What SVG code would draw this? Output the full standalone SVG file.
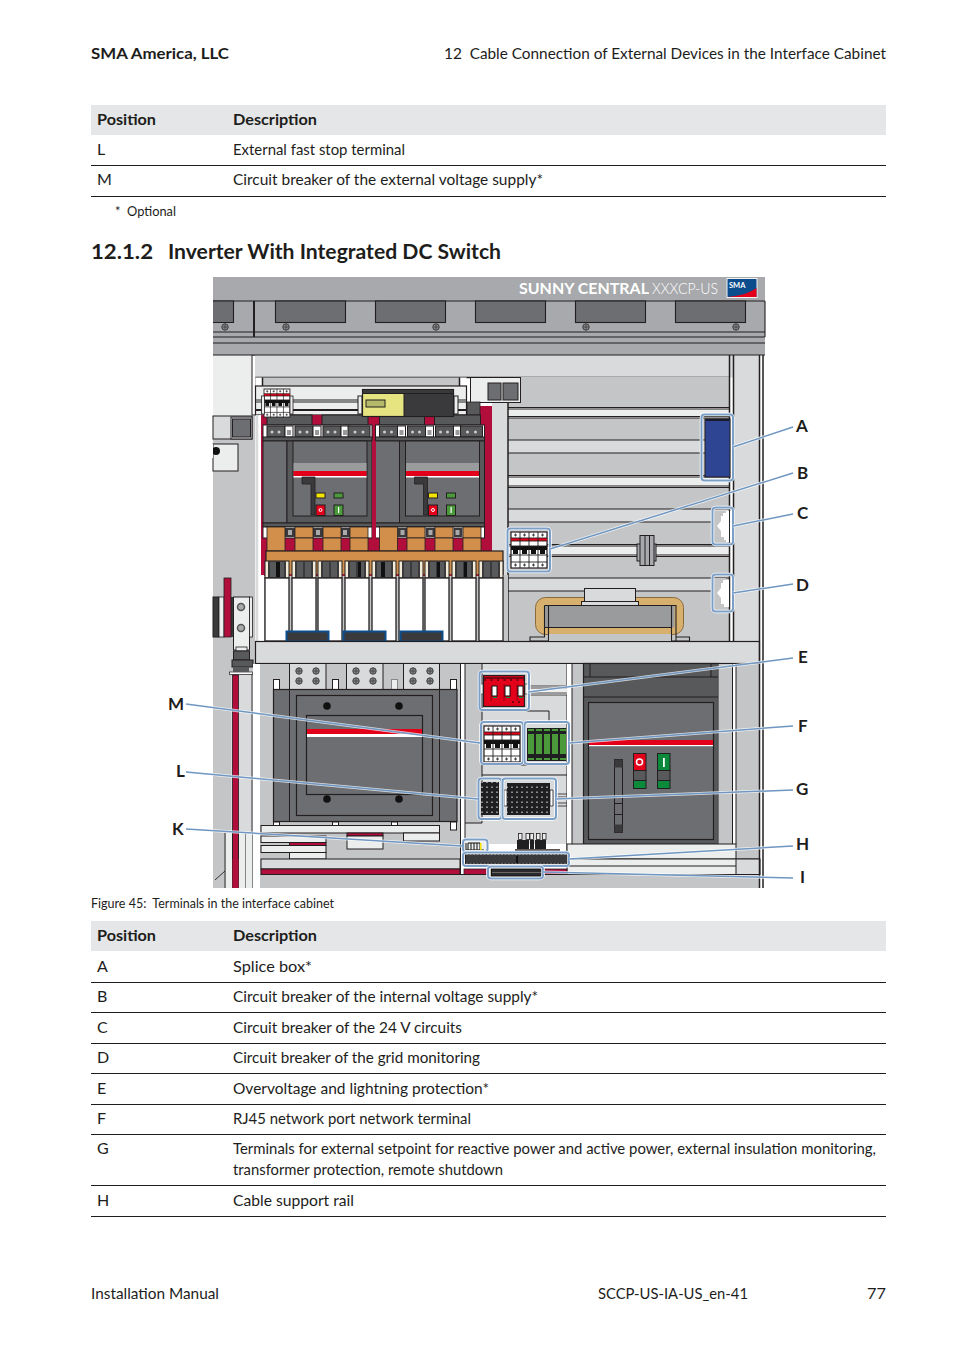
<svg xmlns="http://www.w3.org/2000/svg" width="954" height="1350" viewBox="0 0 954 1350">
<style>
text{font-family:Lato,"Open Sans","Noto Sans","Liberation Sans",sans-serif;fill:#1d1d1b;font-size:15px}
.b{font-weight:700}
.s{font-size:13px}
.lab{font-weight:700;font-size:17px}
.k{stroke:#231f20;stroke-width:1.2}
.kk{stroke:#231f20;stroke-width:1.5;fill:none}
.g1{fill:#d9dadc}.g2{fill:#c4c5c7}.g3{fill:#a7a9ac}.g4{fill:#6d6e71}.g5{fill:#58595b}.d{fill:#3a3a3c}.w{fill:#eceeee}.wh{fill:#fff}
.cr{fill:#b20e3c}.cu{fill:#d18f4b}.re{fill:#e2001a}.gr{fill:#4a9a3c}.gd{fill:#0b8a3c}
.rule{stroke:#1d1d1b;stroke-width:1}
.box{fill:none;stroke:#fff;stroke-width:3.5}
.box2{fill:none;stroke:#7c9fc7;stroke-width:2}
.lh{stroke:#fff;stroke-width:3;opacity:.75;fill:none}
.lb{stroke:#6f97c2;stroke-width:1.5;fill:none}
</style>
<defs>
<g id="sc"><circle r="3.2" fill="#8a8b8d" stroke="#3a3a3c" stroke-width="1"/><path d="M-2.5 0H2.5M0-2.5V2.5" stroke="#3a3a3c" stroke-width=".8"/></g>
<g id="mcb">
<rect width="36" height="36" fill="#fff" stroke="#231f20" stroke-width="1.2"/>
<rect y="6" width="36" height="3" class="re"/>
<rect y="14" width="36" height="4" fill="#111"/>
<path d="M2 18h5v4H2zM11 18h5v4h-5zM20 18h5v4h-5zM29 18h5v4h-5z" fill="#111"/>
<path d="M0 6H36M0 9H36M0 14H36M0 23H36M0 30H36M9 0V36M18 0V36M27 0V36" stroke="#231f20" stroke-width=".9" fill="none"/>
<path d="M3 3h3M4.500 1.500v3M12 3h3M13.500 1.500v3M21 3h3M22.500 1.500v3M30 3h3M31.500 1.500v3M3 33h3M4.500 31.500v3M12 33h3M13.500 31.500v3M21 33h3M22.500 31.500v3M30 33h3M31.500 31.500v3" stroke="#444" stroke-width="1.1"/>
</g>
<g id="mod">
<rect y="-17" width="24" height="17" fill="#f3ecd8" stroke="#231f20"/>
<rect x="3" y="-17" width="18" height="17" class="d"/>
<rect x="5" y="-16" width="6" height="15" class="g5"/><rect x="13" y="-16" width="6" height="15" class="g5"/>
<rect width="24" height="63" fill="#fff" stroke="#231f20" stroke-width="1.3"/>
</g>
<g id="trm">
<rect x="4" width="18" height="11" class="g5" stroke="#231f20"/>
<circle cx="9" cy="6" r="1.5" fill="#ccc"/><circle cx="16" cy="6" r="1.500" fill="#ccc"/>
<rect x="22" width="8" height="11" fill="#fff" stroke="#231f20"/>
<rect x="24" y="4" width="4" height="5" fill="#999"/>
</g>
<g id="brk">
<rect x="267" y="415" width="45" height="10" class="g5" stroke="#231f20"/>
<rect x="322" y="415" width="46" height="10" class="g5" stroke="#231f20"/>
<rect x="263" y="425" width="109" height="13" fill="#fff" stroke="#231f20"/>
<use href="#trm" x="263" y="426"/><use href="#trm" x="291" y="426"/><use href="#trm" x="319" y="426"/>
<rect x="348" y="426" width="22" height="11" class="g5" stroke="#231f20"/><circle cx="355" cy="432" r="1.500" fill="#ccc"/><circle cx="363" cy="432" r="1.500" fill="#ccc"/>
<rect x="263" y="437" width="109" height="4" class="g5" stroke="#231f20"/>
<rect x="263" y="441" width="24" height="82" class="g4" stroke="#231f20"/>
<rect x="287" y="441" width="85" height="82" class="g5" stroke="#231f20"/>
<rect x="293" y="441" width="74" height="75" class="g4" stroke="#231f20"/>
<rect x="293.500" y="463" width="73" height="8" fill="#9a9b9d"/>
<rect x="293.500" y="471" width="73" height="5" class="re"/>
<rect x="293.500" y="476" width="73" height="1.500" class="wh"/>
<path d="M302 477h13v38h-4v-31h-9z" class="d" stroke="#231f20" stroke-width=".8"/>
<rect x="316" y="493" width="9" height="5" fill="#f3e500" stroke="#231f20"/>
<rect x="334" y="493" width="9" height="5" class="gr" stroke="#231f20"/>
<rect x="316" y="505" width="9" height="10.500" class="re" stroke="#231f20"/>
<circle cx="320.500" cy="510" r="1.500" fill="none" stroke="#fff"/>
<rect x="334" y="505" width="9" height="10.500" class="gr" stroke="#231f20"/>
<rect x="338" y="507" width="1.200" height="6" fill="#fff"/>
<rect x="263" y="523" width="109" height="4" class="g5" stroke="#231f20"/>
<rect x="263" y="527" width="109" height="11" fill="#fff" stroke="#231f20"/>
<rect x="285" y="528" width="10" height="9" class="d"/><rect x="313" y="528" width="10" height="9" class="d"/><rect x="341" y="528" width="9" height="9" class="d"/>
<rect x="288" y="530" width="4" height="5" fill="#aaa"/><rect x="316" y="530" width="4" height="5" fill="#aaa"/><rect x="343" y="530" width="4" height="5" fill="#aaa"/>
</g>
<pattern id="dots" width="5" height="5" patternUnits="userSpaceOnUse"><rect width="5" height="5" fill="#1f1f21"/><rect x="1" y="1.500" width="2" height="1.500" fill="#8a8b8d"/></pattern>
</defs>

<g id="page-header">
<text class="b" x="91" y="59" style="font-size:16px" textLength="138" lengthAdjust="spacingAndGlyphs">SMA America, LLC</text>
<text x="444" y="59" style="font-size:16px" textLength="442" lengthAdjust="spacingAndGlyphs" xml:space="preserve">12  Cable Connection of External Devices in the Interface Cabinet</text>
</g>

<g id="table-top">
<rect x="91" y="105" width="795" height="30" fill="#e5e6e7"/>
<text class="b" x="97" y="125" style="font-size:16px" textLength="59" lengthAdjust="spacingAndGlyphs">Position</text>
<text class="b" x="233" y="125" style="font-size:16px" textLength="84" lengthAdjust="spacingAndGlyphs">Description</text>
<text x="97" y="155" style="font-size:16px">L</text>
<text x="233" y="155" style="font-size:16px" textLength="172" lengthAdjust="spacingAndGlyphs">External fast stop terminal</text>
<line class="rule" x1="91" y1="165.500" x2="886" y2="165.500"/>
<text x="97" y="185" style="font-size:16px" >M</text>
<text x="233" y="185" style="font-size:16px" textLength="310" lengthAdjust="spacingAndGlyphs">Circuit breaker of the external voltage supply*</text>
<line class="rule" x1="91" y1="196.500" x2="886" y2="196.500"/>
<text x="115" y="216" class="s">*</text>
<text x="127" y="216" class="s" textLength="49" lengthAdjust="spacingAndGlyphs">Optional</text>
</g>
<g id="heading">
<text class="b" x="91" y="259" style="font-size:21px" textLength="62" lengthAdjust="spacingAndGlyphs">12.1.2</text>
<text class="b" x="168" y="259" style="font-size:21px" textLength="333" lengthAdjust="spacingAndGlyphs">Inverter With Integrated DC Switch</text>
</g>

<g id="cabinet">
<!-- backgrounds -->
<rect x="213" y="355" width="40" height="61" class="w"/>
<rect x="213" y="416" width="42" height="472" class="g2"/>
<rect x="252" y="355" width="4" height="60" class="wh" stroke="#231f20" stroke-width="1"/>
<rect x="255" y="355" width="505" height="22.500" class="g1"/>
<path d="M255.500 377.500H729.500" class="kk"/>
<rect x="255.500" y="377.500" width="7" height="8.500" class="wh"/>
<rect x="262.500" y="377.500" width="197" height="8.500" class="g2"/>
<rect x="459.500" y="377.500" width="7" height="8.500" class="wh"/>
<path d="M262.500 377.500V386M459.500 377.500V386" class="kk"/>
<rect x="255.500" y="386" width="211" height="29" class="w" stroke="#231f20" stroke-width="1.200"/>
<rect x="255.500" y="400" width="211" height="2" class="w" stroke="#231f20" stroke-width="1"/>
<rect x="255.500" y="409" width="211" height="2" fill="#231f20"/>
<!-- upper right stacked panels -->
<rect x="508" y="377" width="221" height="31" class="g2"/>
<rect x="508" y="409" width="221" height="7" class="w"/>
<rect x="508" y="418" width="221" height="22" class="g2"/>
<rect x="508" y="440" width="221" height="13" class="g1"/>
<rect x="508" y="453" width="221" height="22" class="g2"/>
<rect x="508" y="477" width="221" height="9" class="w"/>
<rect x="508" y="487" width="221" height="22" class="g2"/>
<rect x="508" y="509" width="221" height="13" class="g1"/>
<rect x="508" y="522" width="221" height="22" class="g2"/>
<rect x="508" y="545" width="221" height="10" class="w"/>
<rect x="508" y="557" width="221" height="21" class="g2"/>
<rect x="508" y="578" width="221" height="13" class="g1"/>
<rect x="508" y="591" width="221" height="50" class="g2"/>
<path d="M508 407.500H729M508 409H729M508 416.500H729M508 418H729M508 440H729M508 453H729M508 475.500H729M508 477H729M508 486H729M508 487.500H729M508 509H729M508 522H729M508 544.500H729M508 546H729M508 555H729M508 556.500H729M508 578H729M508 591H729" stroke="#231f20" stroke-width="1" fill="none"/>
<rect x="492" y="402" width="16" height="239" class="g1"/>
<path d="M508 402V641" class="kk"/>
<rect x="733" y="355" width="26.500" height="286" class="g1"/>
<path d="M729.500 355V641M733.500 355V641" class="kk"/>
<rect x="759.500" y="355" width="3.500" height="533" class="wh"/>
<!-- left misc -->
<rect x="255.500" y="415" width="3" height="226" class="g1"/>
<rect x="258.500" y="415" width="2.500" height="226" class="wh"/>
<rect x="213" y="416" width="39" height="23" class="g1" stroke="#231f20" stroke-width="1"/>
<rect x="231" y="417" width="21" height="22" class="g1" stroke="#231f20" stroke-width="1"/>
<rect x="232.500" y="419" width="18" height="18" class="g4" stroke="#231f20"/>
<rect x="213" y="444" width="25" height="27" class="w" stroke="#231f20" stroke-width="1"/>
<circle cx="216" cy="451" r="4" fill="#111"/>
<rect x="210" y="444" width="3" height="14" fill="#fff"/>
<!-- box w squares -->
<rect x="470.500" y="377.500" width="50" height="25" class="w" stroke="#231f20" stroke-width="1"/>
<rect x="488" y="383" width="13" height="17" class="g4" stroke="#231f20"/>
<rect x="503" y="383" width="15" height="17" class="g4" stroke="#231f20"/>
<!-- crimson backdrop -->
<path d="M467 402H480V406H492V575H261V415H467Z" class="cr"/>
<rect x="467" y="402" width="13" height="13" class="g5" stroke="#231f20" stroke-width=".8"/>
<use href="#brk"/>
<use href="#brk" x="112.500"/>
<rect x="372" y="441" width="4" height="130" class="cr"/>
<!-- copper -->
<g class="cu" stroke="#231f20" stroke-width=".8">
<rect x="267" y="527" width="18" height="24"/><rect x="295" y="527" width="18" height="11"/><rect x="295" y="538" width="18" height="13"/><rect x="323" y="527" width="18" height="11"/><rect x="323" y="538" width="18" height="13"/><rect x="350" y="527" width="18" height="11"/><rect x="350" y="538" width="18" height="13"/>
<rect x="379.500" y="527" width="18" height="24"/><rect x="407" y="527" width="18" height="11"/><rect x="407" y="538" width="18" height="13"/><rect x="435" y="527" width="18" height="11"/><rect x="435" y="538" width="18" height="13"/><rect x="463" y="527" width="18" height="11"/><rect x="463" y="538" width="18" height="13"/>
<rect x="266" y="551" width="237" height="24" stroke-width="1.200"/>
</g>
<rect x="264" y="575" width="244" height="66" class="g2"/>
<rect x="264" y="574.500" width="229" height="1.500" class="cr"/>
<use href="#mod" x="265" y="578"/><use href="#mod" x="292" y="578"/><use href="#mod" x="318" y="578"/><use href="#mod" x="345" y="578"/><use href="#mod" x="372" y="578"/><use href="#mod" x="399" y="578"/><use href="#mod" x="425" y="578"/><use href="#mod" x="452" y="578"/><use href="#mod" x="479" y="578"/>
<path d="M276 562h4v15h-4zM381 562h4v15h-4zM358 562h3v15h-3zM437 562h3v15h-3zM464 562h3v15h-3z" fill="#111"/>
<g stroke="#231f20"><rect x="286.500" y="631.500" width="42" height="10" class="d" style="stroke:#0a4c8c;stroke-width:2"/><rect x="343.500" y="631.500" width="42" height="10" class="d" style="stroke:#0a4c8c;stroke-width:2"/><rect x="400.500" y="631.500" width="42" height="10" class="d" style="stroke:#0a4c8c;stroke-width:2"/></g>
<!-- left clamp -->
<rect x="213" y="597" width="6" height="40" class="d" stroke="#231f20"/>
<rect x="219" y="597" width="5" height="40" class="w" stroke="#231f20" stroke-width=".8"/>
<rect x="229" y="597" width="4" height="40" class="d"/>
<rect x="233.500" y="597" width="16" height="53" class="w" stroke="#231f20"/>
<rect x="249.500" y="597" width="3" height="40" class="w" stroke="#231f20" stroke-width=".8"/>
<rect x="224" y="578" width="7" height="59" class="cr" stroke="#231f20" stroke-width=".8"/>
<circle cx="241" cy="607" r="3.500" fill="#aaa" stroke="#555" stroke-width="1.500"/>
<circle cx="241" cy="628" r="3.500" fill="#aaa" stroke="#555" stroke-width="1.500"/>
<rect x="236" y="647" width="11" height="4" class="w" stroke="#231f20" stroke-width=".8"/>
<rect x="233.500" y="651" width="16" height="9" class="g5" stroke="#231f20"/>
<rect x="232" y="660" width="21" height="7" class="g5" stroke="#231f20"/>
<rect x="229.500" y="672" width="23" height="2.500" class="wh" stroke="#231f20" stroke-width=".7"/>
<rect x="233" y="667" width="16" height="5" class="g5"/>
<!-- shelf -->
<rect x="255.500" y="641.500" width="504" height="22" class="g1" stroke="#231f20" stroke-width="1.200"/>

<!-- lower left -->
<rect x="253" y="664" width="7" height="224" class="wh"/>
<rect x="260" y="664" width="200" height="224" class="g2"/>
<rect x="231" y="675" width="22" height="213" class="g1" stroke="none"/>
<rect x="232.500" y="675" width="6" height="205" class="cr" stroke="#231f20" stroke-width=".8"/>
<path d="M225 833V888M232.500 833V888M238.500 833V888M245 833V888M252 674V888M215 880L225 871" stroke="#231f20" stroke-width=".9" fill="none"/>
<rect x="226" y="833" width="6" height="55" class="w"/><rect x="239" y="833" width="6" height="55" class="w"/><rect x="246" y="833" width="6" height="55" class="w"/>
<rect x="232.500" y="859" width="6" height="29" class="cr"/>
<g id="blocks">
<rect x="289.500" y="663.500" width="36.500" height="26" class="g1" stroke="#231f20"/>
<rect x="346.500" y="663.500" width="36.500" height="26" class="g1" stroke="#231f20"/>
<rect x="403.500" y="663.500" width="36" height="26" class="g1" stroke="#231f20"/>
<use href="#sc" x="299" y="671"/><use href="#sc" x="316" y="671"/><use href="#sc" x="299" y="681"/><use href="#sc" x="316" y="681"/>
<use href="#sc" x="356" y="671"/><use href="#sc" x="373" y="671"/><use href="#sc" x="356" y="681"/><use href="#sc" x="373" y="681"/>
<use href="#sc" x="413" y="671"/><use href="#sc" x="430" y="671"/><use href="#sc" x="413" y="681"/><use href="#sc" x="430" y="681"/>
<rect x="273.500" y="679.500" width="6" height="10" class="wh" stroke="#231f20"/>
<rect x="332.500" y="679.500" width="6" height="10" class="wh" stroke="#231f20"/>
<rect x="391.500" y="679.500" width="6" height="10" class="w" stroke="#888"/>
<rect x="450.500" y="679.500" width="6" height="10" class="wh" stroke="#231f20"/>
</g>
<rect x="273.500" y="689.500" width="183.500" height="132" class="g4" stroke="#231f20" stroke-width="1.200"/>
<path d="M289.500 689.500V821.500M439.500 689.500V821.500" class="kk" style="stroke-width:1"/>
<rect x="296.500" y="695.500" width="136" height="120" class="g4" stroke="#231f20" stroke-width="1.200"/>
<rect x="306.500" y="715.500" width="116" height="79" class="g4" stroke="#231f20" stroke-width="1.200"/>
<rect x="307" y="729" width="115" height="5" class="re"/><rect x="307" y="734" width="115" height="3" class="wh"/>
<circle cx="327" cy="706" r="3.800" fill="#111"/><circle cx="399" cy="706" r="3.800" fill="#111"/><circle cx="327" cy="799" r="3.800" fill="#111"/><circle cx="399" cy="799" r="3.800" fill="#111"/>
<g stroke="#231f20" stroke-width="1">
<rect x="273.500" y="822" width="6" height="4" class="wh"/><rect x="332.500" y="822" width="6" height="4" class="wh"/><rect x="391.500" y="822" width="6" height="4" class="wh"/><rect x="450.500" y="822" width="6" height="8" class="wh"/>
<rect x="261" y="825.500" width="178.500" height="7.500" class="w"/>
<rect x="347" y="833" width="36" height="3" class="cr"/>
<rect x="347" y="836" width="36" height="13" class="w"/>
<rect x="403.500" y="833" width="36" height="8" class="w"/>
<rect x="261" y="836" width="65" height="6.500" class="w"/>
<rect x="289.500" y="842.500" width="36.500" height="3" class="cr"/>
<rect x="261" y="845.500" width="65" height="7" class="w"/>
<rect x="289.500" y="852.500" width="36.500" height="6.500" class="w"/>
<rect x="261" y="859" width="199" height="10" class="g1"/>
<rect x="261" y="869" width="199" height="5.500" class="cr"/>
</g>

<!-- middle column -->
<rect x="460" y="664" width="5" height="211" class="wh"/>
<rect x="465" y="664" width="102" height="180" class="g1"/>
<rect x="465" y="664" width="17" height="159" class="g2"/>
<path d="M460.500 664V874.500M465 664V859M482 664V823M465 823H482M482 711H549V722M482 765H567M482 775H567M567 664V859" stroke="#231f20" stroke-width="1" fill="none"/>
<rect x="529" y="686" width="38" height="9" class="w"/>
<path d="M529 686H567M529 688H567M529 693H567M529 695H567" stroke="#231f20" stroke-width=".8"/>
<rect x="567" y="664" width="5" height="180" class="wh"/>
<rect x="572" y="664" width="11" height="180" class="g2"/>
<path d="M572 664V844" class="kk" style="stroke-width:1"/>
<!-- right breaker -->
<rect x="583.500" y="663.500" width="135" height="181" class="g5" stroke="#231f20" stroke-width="1.200"/>
<path d="M583.500 677H718.500M583.500 697H718.500M590 664V677M711 664V677" class="kk" style="stroke-width:1"/>
<rect x="588.500" y="702.500" width="125" height="137" class="g4" stroke="#231f20" stroke-width="1.200"/>
<rect x="589" y="740" width="124" height="5" class="re"/><rect x="589" y="745" width="124" height="1.200" class="wh"/>
<rect x="633.500" y="753.500" width="12.500" height="17" class="re" stroke="#231f20"/>
<circle cx="639.500" cy="762" r="3" fill="none" stroke="#fff" stroke-width="1.600"/>
<rect x="633.500" y="770.500" width="12.500" height="10" class="g5" stroke="#231f20"/>
<rect x="633.500" y="780.500" width="12.500" height="8" class="gd" stroke="#231f20"/>
<rect x="657.500" y="753.500" width="12.500" height="17" class="gd" stroke="#231f20"/>
<rect x="663" y="758" width="1.800" height="9" fill="#fff"/>
<rect x="657.500" y="770.500" width="12.500" height="10" class="g5" stroke="#231f20"/>
<rect x="657.500" y="780.500" width="12.500" height="8" class="gd" stroke="#231f20"/>
<rect x="614.500" y="759.500" width="8" height="73" class="g4" stroke="#231f20"/>
<rect x="614.500" y="759.500" width="8" height="8" class="d"/>
<rect x="614.500" y="824.500" width="8" height="8" class="d"/>
<path d="M614.500 803.500h8M614.500 814.500h8" stroke="#231f20"/>
<rect x="718.500" y="664" width="14" height="180" class="g2"/>
<rect x="736" y="664" width="23.500" height="210" class="g2"/>
<path d="M732.500 664V844M736 664V844" class="kk" style="stroke-width:1"/>
<rect x="567" y="844" width="169" height="15" class="w" stroke="#231f20" stroke-width="1"/>
<rect x="567" y="859" width="193" height="15.500" class="w" stroke="#231f20" stroke-width="1"/>
<path d="M567 866H736" stroke="#231f20" stroke-width="1"/>
<rect x="736" y="859" width="23.500" height="15.500" class="g1" stroke="#231f20" stroke-width="1"/>
<rect x="464" y="869" width="103" height="5.500" class="cr" stroke="#231f20" stroke-width=".8"/>
<rect x="260.500" y="875" width="499" height="13" class="g2"/>
<path d="M460 874.500H760" stroke="#231f20"/>
<path d="M759.500 355V888M763 355V888" class="kk"/>

<!-- top panel -->
<rect x="213" y="277" width="552" height="78" class="g3"/>
<path d="M213 301H765M213 332H765M213 337H765M213 343H765M213 355H765M765 301V337" stroke="#231f20" stroke-width="1.100" fill="none"/>
<path d="M254 301V337" stroke="#231f20" stroke-width="2"/>
<path d="M213 301H233.500V322.500H213Z" class="g4"/>
<path d="M213 301H233.500V322.500H213" fill="none" stroke="#231f20" stroke-width="1.100"/>
<g class="g4" stroke="#231f20" stroke-width="1.100">
<rect x="275.500" y="301" width="70" height="21.500"/><rect x="375.500" y="301" width="70" height="21.500"/><rect x="475.500" y="301" width="70" height="21.500"/><rect x="575.500" y="301" width="70" height="21.500"/><rect x="675.500" y="301" width="70" height="21.500"/>
</g>
<use href="#sc" x="225" y="327"/><use href="#sc" x="286" y="327"/><use href="#sc" x="436" y="327"/><use href="#sc" x="586" y="327"/><use href="#sc" x="736" y="327"/>
<text x="519" y="294" class="b" style="font-size:16px;fill:#fff" textLength="130" lengthAdjust="spacingAndGlyphs">SUNNY CENTRAL</text>
<text x="652" y="294" style="font-size:16px;fill:#fff;font-weight:300" textLength="66" lengthAdjust="spacingAndGlyphs">XXXCP-US</text>
<g id="logo">
<rect x="726.500" y="278" width="31" height="20" fill="#f3f3f3"/>
<rect x="727.500" y="279" width="29" height="18" fill="#0a4c8c"/>
<path d="M727.500 297C738 296 748 294 756.500 288V297Z" fill="#e2001a"/>
<text x="729" y="288" class="b" style="font-size:7.500px;fill:#fff">SMA</text>
</g>

<!-- small parts inside callouts -->
<rect x="705" y="419" width="25" height="58" fill="#2e4593" stroke="#231f20" stroke-width="1"/>
<rect x="705.500" y="419" width="24" height="2" fill="#1a1a2e"/>
<path d="M713 511h13v31h-13z" class="g2"/>
<path d="M726 511h5v31h-5z" class="wh" stroke="none"/>
<path d="M723 513h6v27h-5v-3h-3v-6l-4-5 4-5v-5h2z" fill="#fff"/>
<path d="M713 578h13v31h-13z" class="g2"/>
<path d="M723 580h6v27h-5v-3h-3v-6l-4-5 4-5v-5h2z" fill="#fff"/>
<path d="M729.500 507V612" class="kk" style="stroke-width:1"/>
<use href="#mcb" x="511" y="532"/>
<use href="#mcb" x="484" y="726"/>
<use href="#mcb" transform="translate(264 389) scale(.72 .78)"/>
<rect x="261.500" y="396" width="3" height="18" class="w" stroke="#231f20" stroke-width=".8"/>
<rect x="290" y="396" width="3" height="18" class="w" stroke="#231f20" stroke-width=".8"/>
<!-- din clip A -->
<rect x="358" y="396" width="4" height="18" class="w" stroke="#231f20" stroke-width="1"/>
<rect x="454" y="396" width="4" height="18" class="w" stroke="#231f20" stroke-width="1"/>
<rect x="362.500" y="389.500" width="91" height="27" fill="#e6e481" stroke="#231f20" stroke-width="1.200"/>
<rect x="404" y="389.500" width="49.500" height="27" class="d" stroke="#231f20"/>
<rect x="362.500" y="389.500" width="91" height="4" class="d" stroke="#231f20"/>
<rect x="366" y="400" width="19" height="7" fill="#b6b96a" stroke="#231f20"/>
<!-- din rail hardware right -->
<rect x="637" y="544" width="19" height="17" class="g3" stroke="#231f20"/>
<rect x="640" y="535.500" width="14" height="30" class="g3" stroke="#231f20"/>
<path d="M645 535.500V565.500M649.500 535.500V565.500" stroke="#231f20"/>
<!-- transformer -->
<rect x="535.500" y="597.500" width="148" height="37" rx="10" fill="#d8b06e" stroke="#8a6a3a" stroke-width="1"/>
<rect x="584.500" y="588.500" width="51" height="14" class="g1" stroke="#231f20"/>
<rect x="581.500" y="601.500" width="57" height="4" class="g1" stroke="#231f20"/>
<rect x="544.500" y="605.500" width="130" height="22" fill="#9a9b9d"/>
<path d="M544.500 627.500H672" stroke="#231f20"/>
<path d="M544.500 605.500H676V641M671.500 605.500V641M672 641H689.500V637H676M548.500 605.500V641M544.500 605.500V637H530V641H548.500" class="kk" style="stroke-width:1.100"/>
<rect x="549" y="634" width="122" height="7" class="g2"/>
<!-- SPD E -->
<rect x="483.500" y="675.500" width="41" height="31" class="re" stroke="#231f20" stroke-width="1.200"/>
<path d="M483.500 678H524.500" stroke="#111"/>
<path d="M484 680h40" stroke="#7a0010" stroke-width="2" stroke-dasharray="2 4.500"/>
<path d="M491 687V701M504 684V701M517 684V701" stroke="#8a0012" stroke-width=".8"/>
<circle cx="513" cy="702" r="1" fill="#5a0010"/><circle cx="519" cy="702" r="1" fill="#5a0010"/>
<path d="M483 684h-3v10h3zM525 684h4v10h-4z" class="w" stroke="#231f20" stroke-width=".6"/>
<rect x="492" y="686" width="5" height="10" fill="#fff" stroke="#111"/><rect x="505" y="686" width="5" height="10" fill="#fff" stroke="#111"/><rect x="518" y="686" width="5" height="10" fill="#fff" stroke="#111"/>
<rect x="493" y="697" width="4" height="1" fill="#0b8a3c"/><rect x="506" y="697" width="4" height="1" fill="#0b8a3c"/><rect x="519" y="697" width="4" height="1" fill="#0b8a3c"/>
<!-- RJ F -->
<rect x="527" y="728" width="39" height="33" fill="#1f1f21"/>
<g class="gr"><rect x="528" y="734" width="6" height="20"/><rect x="536" y="734" width="6" height="20"/><rect x="544" y="734" width="6" height="20"/><rect x="552" y="734" width="6" height="20"/><rect x="560" y="734" width="6" height="20"/></g>
<g class="gr"><rect x="528" y="729" width="6" height="2"/><rect x="536" y="729" width="6" height="2"/><rect x="544" y="729" width="6" height="2"/><rect x="552" y="729" width="6" height="2"/><rect x="560" y="729" width="6" height="2"/><rect x="528" y="758" width="6" height="2"/><rect x="536" y="758" width="6" height="2"/><rect x="544" y="758" width="6" height="2"/><rect x="552" y="758" width="6" height="2"/><rect x="560" y="758" width="6" height="2"/></g>
<!-- G L terminals -->
<rect x="481" y="782" width="18" height="33" fill="url(#dots)"/>
<rect x="507" y="783" width="43" height="32" fill="url(#dots)"/>
<path d="M507 790h-3v16h3zM550 790h3v16h-3z" fill="#fff" stroke="#231f20" stroke-width=".8"/>
<path d="M556 794H567M556 797H567M556 803H567M556 806H567" stroke="#231f20" stroke-width=".8"/>
<!-- relay top of H -->
<rect x="518.500" y="833.500" width="3.500" height="6" class="w" stroke="#231f20" stroke-width=".8"/><rect x="526" y="833.500" width="3.500" height="6" class="w" stroke="#231f20" stroke-width=".8"/><rect x="530" y="833.500" width="3.500" height="6" class="w" stroke="#231f20" stroke-width=".8"/><rect x="536.500" y="833.500" width="3.500" height="6" class="w" stroke="#231f20" stroke-width=".8"/><rect x="542.500" y="833.500" width="3.500" height="6" class="w" stroke="#231f20" stroke-width=".8"/>
<path d="M517 840h12v9h-12zM530 840h4v9h-4zM535 840h11v9h-11z" fill="#1f1f21"/>
<path d="M515 850H560" stroke="#231f20" stroke-width="1.500"/>
<!-- K H I parts -->
<rect x="465" y="841" width="21" height="10" class="w"/>
<path d="M466 850H484M466 850V843M468 850V843H480M471 843V850M474 843V850M477 843V850M480 843V850" stroke="#111" stroke-width="1" fill="none"/>
<rect x="480" y="843" width="1.500" height="7" fill="#f3e500"/>
<rect x="465.500" y="854" width="102" height="10" fill="#3a3a3c" stroke="#231f20" stroke-width="1"/>
<path d="M466 854H567" stroke="#999" stroke-width="1.500" stroke-dasharray="2 1.500"/>
<path d="M466 864H567" stroke="#999" stroke-width="1" stroke-dasharray="2 1.500"/>
<rect x="516" y="856" width="2" height="7" fill="#111"/>
<rect x="489" y="867" width="54" height="11" class="g2"/>
<rect x="491.500" y="869" width="50" height="7" fill="#2a2a2c" stroke="#111"/>
<path d="M492 872.500H541" stroke="#777" stroke-width=".8"/>
</g>

<g id="connectors">
<g id="callout-boxes">
<rect class="box" x="701.500" y="414.500" width="31.500" height="66" rx="3"/><rect class="box2" x="701.500" y="414.500" width="31.500" height="66" rx="3"/>
<rect class="box" x="507.500" y="528.500" width="42.500" height="43" rx="3"/><rect class="box2" x="507.500" y="528.500" width="42.500" height="43" rx="3"/>
<rect class="box" x="712.500" y="507.500" width="20.500" height="37" rx="3"/><rect class="box2" x="712.500" y="507.500" width="20.500" height="37" rx="3"/>
<rect class="box" x="712.500" y="574.500" width="20.500" height="37" rx="3"/><rect class="box2" x="712.500" y="574.500" width="20.500" height="37" rx="3"/>
<rect class="box" x="479.500" y="671.500" width="49.500" height="38.500" rx="3"/><rect class="box2" x="479.500" y="671.500" width="49.500" height="38.500" rx="3"/>
<rect class="box" x="481" y="722" width="42" height="42" rx="3"/><rect class="box2" x="481" y="722" width="42" height="42" rx="3"/>
<rect class="box" x="524.500" y="722" width="44.500" height="42" rx="3"/><rect class="box2" x="524.500" y="722" width="44.500" height="42" rx="3"/>
<rect class="box" x="478.500" y="778.500" width="23" height="40.500" rx="3"/><rect class="box2" x="478.500" y="778.500" width="23" height="40.500" rx="3"/>
<rect class="box" x="502.500" y="778.500" width="53.500" height="40.500" rx="3"/><rect class="box2" x="502.500" y="778.500" width="53.500" height="40.500" rx="3"/>
<rect class="box" x="463" y="839.500" width="24.500" height="12.500" rx="3"/><rect class="box2" x="463" y="839.500" width="24.500" height="12.500" rx="3"/>
<rect class="box" x="463" y="852.500" width="106" height="13.500" rx="3"/><rect class="box2" x="463" y="852.500" width="106" height="13.500" rx="3"/>
<rect class="box" x="488" y="866.500" width="55" height="12" rx="3"/><rect class="box2" x="488" y="866.500" width="55" height="12" rx="3"/>
</g>
<path class="lh" d="M733 447L793 427M550 549L793 473M733 526L793 514M733 593L793 584M528 692L793 658M569 743L793 726M556 799L793 790M569 859L793 846M543 872L793 878M186 704L480 743M186 772L478 799M186 829L462 846"/>
<path class="lb" d="M733 447L793 427M550 549L793 473M733 526L793 514M733 593L793 584M528 692L793 658M569 743L793 726M556 799L793 790M569 859L793 846M543 872L793 878M186 704L480 743M186 772L478 799M186 829L462 846"/>
</g>

<g id="label-A"><text class="lab" x="796" y="432">A</text></g>
<g id="label-B"><text class="lab" x="797" y="479">B</text></g>
<g id="label-C"><text class="lab" x="797" y="519">C</text></g>
<g id="label-D"><text class="lab" x="796" y="591">D</text></g>
<g id="label-E"><text class="lab" x="798" y="663">E</text></g>
<g id="label-F"><text class="lab" x="798" y="732">F</text></g>
<g id="label-G"><text class="lab" x="796" y="795">G</text></g>
<g id="label-H"><text class="lab" x="796" y="850">H</text></g>
<g id="label-I"><text class="lab" x="800" y="883">I</text></g>
<g id="label-M"><text class="lab" x="168" y="710">M</text></g>
<g id="label-L"><text class="lab" x="176" y="777">L</text></g>
<g id="label-K"><text class="lab" x="172" y="835">K</text></g>

<text x="91" y="908" class="s" textLength="243" lengthAdjust="spacingAndGlyphs" xml:space="preserve">Figure 45:  Terminals in the interface cabinet</text>

<g id="table-bottom">
<rect x="91" y="921" width="795" height="30" fill="#e5e6e7"/>
<text class="b" x="97" y="941" style="font-size:16px" textLength="59" lengthAdjust="spacingAndGlyphs">Position</text>
<text class="b" x="233" y="941" style="font-size:16px" textLength="84" lengthAdjust="spacingAndGlyphs">Description</text>
<text x="97" y="972" style="font-size:16px">A</text><text x="233" y="972" style="font-size:16px" textLength="79" lengthAdjust="spacingAndGlyphs">Splice box*</text>
<text x="97" y="1002" style="font-size:16px">B</text><text x="233" y="1002" style="font-size:16px" textLength="305" lengthAdjust="spacingAndGlyphs">Circuit breaker of the internal voltage supply*</text>
<text x="97" y="1033" style="font-size:16px">C</text><text x="233" y="1033" style="font-size:16px" textLength="229" lengthAdjust="spacingAndGlyphs">Circuit breaker of the 24 V circuits</text>
<text x="97" y="1063" style="font-size:16px">D</text><text x="233" y="1063" style="font-size:16px" textLength="247" lengthAdjust="spacingAndGlyphs">Circuit breaker of the grid monitoring</text>
<text x="97" y="1094" style="font-size:16px">E</text><text x="233" y="1094" style="font-size:16px" textLength="256" lengthAdjust="spacingAndGlyphs">Overvoltage and lightning protection*</text>
<text x="97" y="1124" style="font-size:16px">F</text><text x="233" y="1124" style="font-size:16px" textLength="238" lengthAdjust="spacingAndGlyphs">RJ45 network port network terminal</text>
<text x="97" y="1154" style="font-size:16px">G</text><text x="233" y="1154" style="font-size:16px" textLength="643" lengthAdjust="spacingAndGlyphs">Terminals for external setpoint for reactive power and active power, external insulation monitoring,</text>
<text x="233" y="1175" style="font-size:16px" textLength="270" lengthAdjust="spacingAndGlyphs">transformer protection, remote shutdown</text>
<text x="97" y="1206" style="font-size:16px">H</text><text x="233" y="1206" style="font-size:16px" textLength="121" lengthAdjust="spacingAndGlyphs">Cable support rail</text>
<path class="rule" d="M91 982.500H886M91 1012.500H886M91 1043.500H886M91 1073.500H886M91 1104.500H886M91 1134.500H886M91 1185.500H886M91 1216.500H886" fill="none"/>
</g>

<g id="page-footer">
<text x="91" y="1299" style="font-size:16px" textLength="128" lengthAdjust="spacingAndGlyphs">Installation Manual</text>
<text x="598" y="1299" style="font-size:16px" textLength="150" lengthAdjust="spacingAndGlyphs">SCCP-US-IA-US_en-41</text>
<text x="867" y="1299" style="font-size:16px" textLength="19" lengthAdjust="spacingAndGlyphs">77</text>
</g>
</svg>
